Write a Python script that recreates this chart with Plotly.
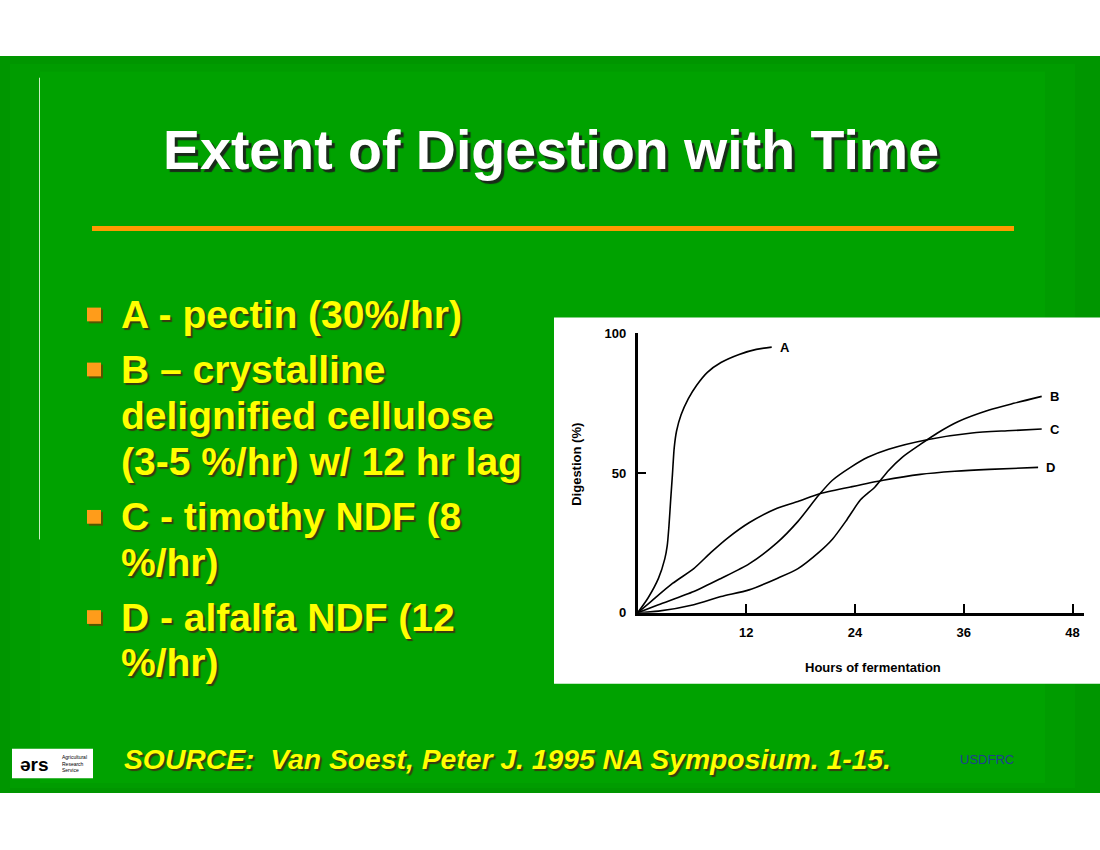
import plotly.graph_objects as go

W, H = 1100, 850

# digestion curves: hours of fermentation vs digestion (%)
a_hours = [0, 1.15, 2.3, 3.0, 3.27, 3.46, 3.65, 3.85, 4.04, 4.3, 4.8, 5.6, 6.5, 7.7, 9.2, 11.2, 13.1, 14.8]
a_pct = [0, 5.3, 12.3, 19.3, 24, 31, 40.4, 49.7, 59, 65, 70.8, 76.6, 81.3, 86, 89.5, 92.4, 94.2, 95]

b_hours = [0, 2.3, 6.2, 9.2, 12.3, 15.4, 17.7, 20, 21.5, 23.1, 24.6, 26.2, 27.7, 29.2, 31.2, 33.1, 35.4, 38.8, 41.5, 44.6]
b_pct = [0, 0.6, 2.9, 5.8, 8.2, 12.3, 15.8, 21.6, 26.3, 33.3, 40.4, 45, 50.9, 55.6, 60.2, 64.3, 68.4, 72.5, 74.9, 77.4]

c_hours = [0, 2.3, 6.2, 9.2, 12.3, 15.4, 17.7, 20, 21.5, 23.5, 25.4, 27.7, 32.1, 36.9, 40.8, 44.6]
c_pct = [0, 2.9, 7.6, 12.3, 17.5, 25.1, 32.7, 42.1, 47.4, 52, 55.6, 58.5, 62, 64.3, 65.1, 65.7]

d_hours = [0, 1.5, 3.85, 6.2, 8.1, 10, 12.3, 15.4, 17.7, 20, 23.5, 27.1, 31.2, 35, 38.8, 44.2]
d_pct = [0, 4.1, 10.5, 15.8, 21.6, 26.9, 32.2, 37.4, 39.8, 42.5, 45, 47.4, 49.5, 50.6, 51.3, 52]

curve_names = ["A", "B", "C", "D"]
x_ticks = [12, 24, 36, 48]
y_ticks = [0, 50, 100]

title_text = "Extent of Digestion with Time"
bullet_lines = [
    ("A - pectin (30%/hr)", True),
    ("B \u2013 crystalline", True),
    ("delignified cellulose", False),
    ("(3-5 %/hr) w/ 12 hr lag", False),
    ("C - timothy NDF (8", True),
    ("%/hr)", False),
    ("D - alfalfa NDF (12", True),
    ("%/hr)", False),
]
source_text = "SOURCE:  Van Soest, Peter J. 1995 NA Symposium. 1-15."


def px(x):
    return x / W


def py(y):
    return 1 - y / H


FONT = "Arial, Liberation Sans, sans-serif"

fig = go.Figure()
annotations = []

series = [(a_hours, a_pct), (b_hours, b_pct), (c_hours, c_pct), (d_hours, d_pct)]
for name, (hx, vy) in zip(curve_names, series):
    fig.add_trace(go.Scatter(
        x=hx, y=vy, mode="lines", name=name,
        line=dict(color="black", width=1.6, shape="spline", smoothing=0.7),
        showlegend=False, hoverinfo="skip",
    ))
    # curve letter at the end of each line
    annotations.append(dict(
        x=hx[-1], y=vy[-1], xref="x", yref="y", text="<b>%s</b>" % name,
        showarrow=False, xanchor="left", xshift=6,
        font=dict(family=FONT, size=13, color="black"),
    ))

shapes = []
# slide background with a soft darker rim
shapes.append(dict(type="rect", xref="paper", yref="paper", x0=0, x1=1,
                   y0=py(800), y1=py(50), fillcolor="#009600", line_width=0, layer="below"))
shapes.append(dict(type="rect", xref="paper", yref="paper", x0=px(10), x1=px(1075),
                   y0=py(795), y1=py(58), fillcolor="#009c00", line_width=0, layer="below"))
shapes.append(dict(type="rect", xref="paper", yref="paper", x0=px(40), x1=px(1045),
                   y0=py(790), y1=py(66), fillcolor="#00a200", line_width=0, layer="below"))
# thin vertical rule on the left
shapes.append(dict(type="line", xref="paper", yref="paper", x0=px(39.5), x1=px(39.5),
                   y0=py(542), y1=py(72), line=dict(color="#c8f0c0", width=1), layer="below"))
# orange rule under the title
shapes.append(dict(type="rect", xref="paper", yref="paper", x0=px(92), x1=px(1014),
                   y0=py(228), y1=py(223), fillcolor="#ff9900", line_width=0, layer="below"))
# white panel behind the chart
shapes.append(dict(type="rect", xref="paper", yref="paper", x0=px(554), x1=1,
                   y0=py(689), y1=py(316), fillcolor="white", line_width=0, layer="below"))
# logo box
shapes.append(dict(type="rect", xref="paper", yref="paper", x0=px(12), x1=px(93),
                   y0=py(785), y1=py(755), fillcolor="white", line_width=0, layer="below"))

# title with drop shadow
annotations.append(dict(
    x=px(551), y=py(146), xref="paper", yref="paper", text="<b>%s</b>" % title_text,
    showarrow=False, xanchor="center", yanchor="middle",
    font=dict(family=FONT, size=55.5, color="white", shadow="3px 3px 1px #1a2a1a"),
))

# bullet list
line_base = [325, 381, 428, 475, 531, 577, 633, 679]
for (txt, has_bullet), base in zip(bullet_lines, line_base):
    annotations.append(dict(
        x=px(119), y=py(base - 12), xref="paper", yref="paper", text="<b>%s</b>" % txt,
        showarrow=False, xanchor="left", yanchor="middle",
        font=dict(family=FONT, size=39, color="#ffff00", shadow="2px 2px 1px #3a3a10"),
    ))
    if has_bullet:
        shapes.append(dict(type="rect", xref="paper", yref="paper",
                           x0=px(89), x1=px(103), y0=py(base - 3), y1=py(base - 17),
                           fillcolor="#555500", line_width=0, layer="below"))
        shapes.append(dict(type="rect", xref="paper", yref="paper",
                           x0=px(87), x1=px(101), y0=py(base - 5), y1=py(base - 19),
                           fillcolor="#ff9c1a", line_width=0, layer="below"))

# source line and footer
annotations.append(dict(
    x=px(122), y=py(765), xref="paper", yref="paper", text="<b><i>%s</i></b>" % source_text,
    showarrow=False, xanchor="left", yanchor="middle",
    font=dict(family=FONT, size=28.3, color="#ffff00", shadow="2px 2px 1px #3a3a10"),
))
annotations.append(dict(
    x=px(987), y=py(766), xref="paper", yref="paper", text="USDFRC",
    showarrow=False, xanchor="center", yanchor="middle",
    font=dict(family=FONT, size=13, color="#1f3f8f"),
))
annotations.append(dict(
    x=px(35), y=py(771), xref="paper", yref="paper", text="<b>\u01ddrs</b>",
    showarrow=False, xanchor="center", yanchor="middle",
    font=dict(family=FONT, size=19, color="black"),
))
annotations.append(dict(
    x=px(60), y=py(770), xref="paper", yref="paper",
    text="Agricultural<br>Research<br>Service",
    showarrow=False, xanchor="left", yanchor="middle", align="left",
    font=dict(family=FONT, size=5, color="black"),
))

# axis titles of the inset chart
annotations.append(dict(
    x=px(577), y=py(466), xref="paper", yref="paper", text="<b>Digestion (%)</b>",
    showarrow=False, textangle=-90, xanchor="center", yanchor="middle",
    font=dict(family=FONT, size=13, color="black"),
))
annotations.append(dict(
    x=px(873), y=py(672), xref="paper", yref="paper", text="<b>Hours of fermentation</b>",
    showarrow=False, xanchor="center", yanchor="middle",
    font=dict(family=FONT, size=13, color="black"),
))

fig.update_layout(
    width=W, height=H, autosize=False,
    margin=dict(l=0, r=0, t=0, b=0),
    paper_bgcolor="white", plot_bgcolor="white",
    xaxis=dict(
        domain=[px(637.6), px(1084.3)], range=[0, 49.3],
        showline=True, linecolor="black", linewidth=2.5,
        ticks="inside", ticklen=9, tickwidth=2, tickcolor="black",
        tickvals=x_ticks, ticktext=["<b>%d</b>" % v for v in x_ticks],
        tickfont=dict(family=FONT, size=13, color="black"),
        ticklabelstandoff=6,
        showgrid=False, zeroline=False, fixedrange=True,
    ),
    yaxis=dict(
        domain=[py(616.7), py(332)], range=[0, 100],
        showline=True, linecolor="black", linewidth=2.5,
        ticks="inside", ticklen=9, tickwidth=2, tickcolor="black",
        tickvals=y_ticks, ticktext=["<b>%d</b>" % v for v in y_ticks],
        tickfont=dict(family=FONT, size=13, color="black"),
        ticklabelstandoff=6,
        showgrid=False, zeroline=False, fixedrange=True,
    ),
)
fig.layout.shapes = shapes
fig.layout.annotations = annotations

# pin the plot to the top-left corner so the page is exactly the figure
pin = ("var d=document.getElementById('{plot_id}');"
       "d.style.position='fixed';d.style.top='0px';d.style.left='0px';"
       "document.body.style.margin='0';document.body.style.overflow='hidden';")
fig.write_html("out.html", config={"displayModeBar": False}, post_script=pin)
